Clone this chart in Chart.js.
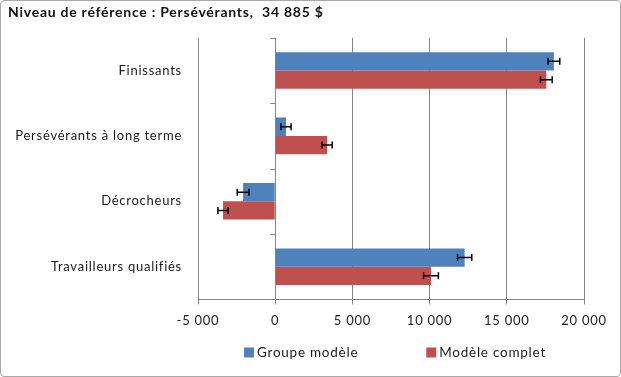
<!DOCTYPE html>
<html>
<head>
<meta charset="utf-8">
<script src="https://cdn.jsdelivr.net/npm/chart.js@4/dist/chart.umd.min.js"></script>
<style>
    body { margin: 0; background: #fff; }
    #wrap { position: relative; width: 621px; height: 377px; }
    #frame {
        position: absolute; left: 0; top: 0; width: 621px; height: 377px;
        box-sizing: border-box; border: 1px solid #a8a8a8; border-radius: 4px;
        pointer-events: none;
    }
    canvas { position: absolute; left: 0; top: 0; }
</style>
</head>
<body>
<div id="wrap">
    <canvas id="salaireChart" width="621" height="377"></canvas>
    <div id="frame"></div>
</div>
<script>
const categories = ["Finissants", "Persévérants à long terme", "Décrocheurs", "Travailleurs qualifiés"];
const groupeModele = [18050, 700, -2080, 12270];
const modeleComplet = [17560, 3360, -3380, 10090];
const erreurGroupe = [380, 330, 380, 460];
const erreurComplet = [380, 330, 330, 480];
const xTicks = [-5000, 0, 5000, 10000, 15000, 20000];
const titre = "Niveau de référence : Persévérants,  34 885 $";

const police = "Lato, 'Open Sans', sans-serif";
const espacementLettres = "0.75px";

function formatMillier(v) {
    const s = Math.abs(v).toString().replace(/\B(?=(\d{3})+(?!\d))/g, " ");
    return (v < 0 ? "-" : "") + s;
}

// texte un peu plus espacé, comme le rendu de l'original
const espacement = {
    id: "espacement",
    beforeLayout(chart) { chart.ctx.letterSpacing = espacementLettres; },
    beforeDraw(chart) { chart.ctx.letterSpacing = espacementLettres; }
};

// barres d'erreur dessinées à partir des échelles
const errorBars = {
    id: "errorBars",
    afterDatasetsDraw(chart) {
        const ctx = chart.ctx;
        const x = chart.scales.x;
        const erreurs = [erreurGroupe, erreurComplet];
        ctx.save();
        ctx.strokeStyle = "#000";
        ctx.lineWidth = 1.5;
        chart.data.datasets.forEach((ds, d) => {
            const meta = chart.getDatasetMeta(d);
            meta.data.forEach((bar, i) => {
                const v = ds.data[i];
                const e = erreurs[d][i];
                const x1 = x.getPixelForValue(v - e);
                const x2 = x.getPixelForValue(v + e);
                const y = bar.y;
                ctx.beginPath();
                ctx.moveTo(x1, y); ctx.lineTo(x2, y);
                ctx.moveTo(x1, y - 3.5); ctx.lineTo(x1, y + 3.5);
                ctx.moveTo(x2, y - 3.5); ctx.lineTo(x2, y + 3.5);
                ctx.stroke();
            });
        });
        ctx.restore();
    }
};

// petites graduations de l'axe des catégories (sur la ligne du zéro) + légende
const decor = {
    id: "decor",
    afterDraw(chart) {
        const ctx = chart.ctx;
        const x = chart.scales.x;
        const y = chart.scales.y;
        const x0 = x.getPixelForValue(0);
        ctx.save();
        ctx.strokeStyle = "#868686";
        ctx.lineWidth = 1;
        ctx.beginPath();
        for (let i = 0; i <= categories.length; i++) {
            const py = Math.round(y.getPixelForValue(i - 0.5)) + 0.5;
            ctx.moveTo(x0 - 5, py); ctx.lineTo(x0, py);
        }
        ctx.stroke();

        // légende
        const area = chart.chartArea;
        ctx.font = "13.5px " + police;
        ctx.textBaseline = "middle";
        const gap = 68;
        const items = chart.data.datasets.map(ds => ({
            label: ds.label, color: ds.backgroundColor,
            w: 10 + 3 + ctx.measureText(ds.label).width
        }));
        const total = items.reduce((s, it) => s + it.w, 0) + gap * (items.length - 1);
        let cx = (area.left + area.right) / 2 - total / 2 + 4;
        const cy = 352.5;
        items.forEach(it => {
            ctx.fillStyle = it.color;
            ctx.fillRect(cx, cy - 5, 10, 10);
            ctx.fillStyle = "#1a1a1a";
            ctx.textAlign = "left";
            ctx.fillText(it.label, cx + 13, cy + 0.5);
            cx += it.w + gap;
        });
        ctx.restore();
    }
};

new Chart(document.getElementById("salaireChart").getContext("2d"), {
    type: "bar",
    data: {
        labels: categories,
        datasets: [
            {
                label: "Groupe modèle",
                data: groupeModele,
                backgroundColor: "#4f81bd",
                borderWidth: 0,
            },
            {
                label: "Modèle complet",
                data: modeleComplet,
                backgroundColor: "#c0504d",
                borderWidth: 0,
            },
        ],
    },
    options: {
        indexAxis: "y",
        responsive: false,
        animation: false,
        categoryPercentage: 0.56,
        barPercentage: 1.0,
        layout: {
            padding: { left: 8, right: 37, top: 0, bottom: 39 },
        },
        plugins: {
            legend: { display: false },
            tooltip: { enabled: false },
            title: {
                display: true,
                text: titre,
                align: "start",
                color: "#111",
                font: { family: police, size: 14, weight: "bold" },
                padding: { top: 4, bottom: 17 },
            },
        },
        scales: {
            x: {
                min: -5000,
                max: 20000,
                afterBuildTicks: (scale) => {
                    scale.ticks = xTicks.map(v => ({ value: v }));
                },
                grid: {
                    color: "#868686",
                    lineWidth: 1,
                    drawTicks: true,
                    tickLength: 5,
                },
                border: { display: true, color: "#868686" },
                ticks: {
                    padding: 9,
                    color: "#1a1a1a",
                    font: { family: police, size: 13 },
                    callback: (v) => formatMillier(v),
                },
            },
            y: {
                afterFit: (scale) => { scale.width = 190; },
                grid: { display: false, drawTicks: false },
                border: { display: false },
                ticks: {
                    padding: 16,
                    color: "#1a1a1a",
                    font: { family: police, size: 13 },
                },
            },
        },
    },
    plugins: [espacement, errorBars, decor],
});
</script>
</body>
</html>
